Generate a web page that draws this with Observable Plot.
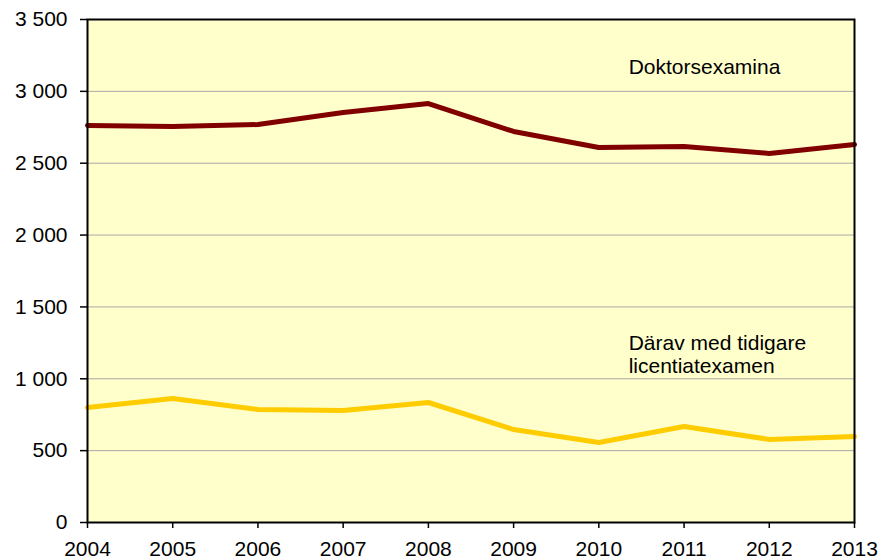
<!DOCTYPE html>
<html><head><meta charset="utf-8">
<script src="https://cdn.jsdelivr.net/npm/d3@7"></script>
<script src="https://cdn.jsdelivr.net/npm/@observablehq/plot@0.6"></script>
<style>html,body{margin:0;padding:0;background:#fff} svg{display:block}</style>
</head><body><div id="chart"></div>
<script>
const years = [2004, 2005, 2006, 2007, 2008, 2009, 2010, 2011, 2012, 2013];
const doktorsexamina = [2762, 2755, 2769, 2853, 2915, 2721, 2609, 2616, 2568, 2630];
const licentiat = [800, 863, 786, 779, 835, 647, 557, 668, 578, 598];
const yTicks = [0, 500, 1000, 1500, 2000, 2500, 3000, 3500];
const labelDoktor = "Doktorsexamina";
const labelLic = "Därav med tidigare\nlicentiatexamen";

const rows = years.map((yr, i) => ({year: yr, doktor: doktorsexamina[i], lic: licentiat[i]}));
const fmt = d3.formatLocale({decimal: ",", thousands: " ", grouping: [3], currency: ["", ""]}).format(",");

const chart = Plot.plot({
  width: 881,
  height: 560,
  marginLeft: 87,
  marginRight: 27,
  marginTop: 19,
  marginBottom: 38,
  style: {fontFamily: "'Liberation Sans', Arial, sans-serif", fontSize: "21px", background: "#fff", color: "#000"},
  x: {domain: [2004, 2013]},
  y: {domain: [0, 3500]},
  marks: [
    Plot.frame({fill: "#FFFFCC", stroke: null}),
    Plot.gridY(yTicks.filter(d => d > 0 && d < 3500), {stroke: "#a8a8a8", strokeOpacity: 1, strokeWidth: 1}),
    Plot.line(rows, {x: "year", y: "doktor", stroke: "#800000", strokeWidth: 5, strokeLinejoin: "miter"}),
    Plot.line(rows, {x: "year", y: "lic", stroke: "#FFCC00", strokeWidth: 5, strokeLinejoin: "miter"}),
    Plot.text([labelDoktor], {x: 2010.35, y: 3124, text: d => d, textAnchor: "start", lineAnchor: "bottom", fill: "#000", fontSize: 21}),
    Plot.text([labelLic], {x: 2010.35, y: 1037, text: d => d, textAnchor: "start", lineAnchor: "bottom", lineHeight: 1.1, fill: "#000", fontSize: 21}),
    Plot.frame({stroke: "#000", strokeWidth: 2}),
    Plot.axisY({ticks: yTicks, tickFormat: fmt, tickSize: 7, tickPadding: 13, fontSize: 21, stroke: "#000", strokeWidth: 1.5, label: null}),
    Plot.axisX({ticks: years, tickFormat: d => String(d), tickSize: 6, tickPadding: 13, fontSize: 21, stroke: "#000", strokeWidth: 1.5, label: null})
  ]
});
document.getElementById("chart").appendChild(chart);
</script>
</body></html>
